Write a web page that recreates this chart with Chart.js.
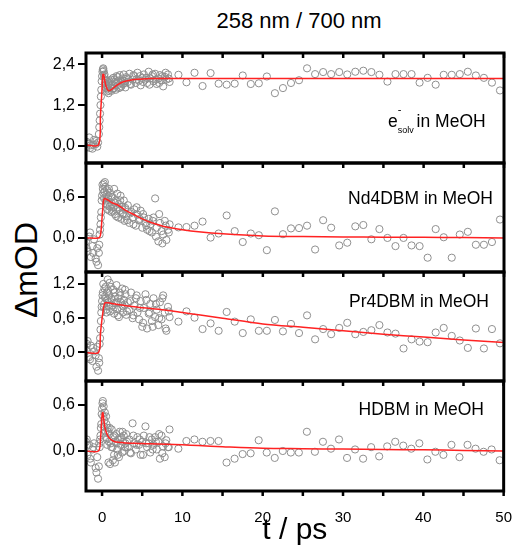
<!DOCTYPE html>
<html>
<head>
<meta charset="utf-8">
<script src="https://cdn.jsdelivr.net/npm/chart.js@4.4.1/dist/chart.umd.min.js"></script>
<style>
  html, body { margin: 0; padding: 0; background: #fff; }
  body { width: 512px; height: 551px; position: relative; overflow: hidden; font-family: "Liberation Sans", Arial, sans-serif; color: #000; }
  canvas { position: absolute; left: 0; }
  .lab { position: absolute; font-size: 17.5px; line-height: 20px; white-space: nowrap; }
  .sup { display: inline-block; width: 0; position: relative; top: -14px; font-size: 11px; }
  .sub { position: relative; top: 6px; font-size: 9px; margin-right: -2px; }
  #title { position: absolute; left: 90px; width: 418px; top: 8px; text-align: center; font-size: 22px; }
  #ylab { position: absolute; left: 26px; top: 270px; transform: translate(-50%, -50%) rotate(-90deg); font-size: 32px; white-space: nowrap; }
</style>
</head>
<body>
<div id="title">258 nm / 700 nm</div>
<div id="ylab">ΔmOD</div>

<canvas id="p1" width="512" height="142" style="top:37px"></canvas>
<canvas id="p2" width="512" height="141" style="top:147px"></canvas>
<canvas id="p3" width="512" height="141" style="top:256px"></canvas>
<canvas id="p4" width="522" height="186" style="top:365px"></canvas>

<div class="lab" style="left:388px; top:111px">e<span class="sup">-</span><span class="sub">solv</span> in MeOH</div>
<div class="lab" style="right:19px; top:188px">Nd4DBM in MeOH</div>
<div class="lab" style="right:23px; top:291px">Pr4DBM in MeOH</div>
<div class="lab" style="right:28px; top:399px">HDBM in MeOH</div>

<script>
// time axes (ps)
const tDense = [-2.0, -1.8, -1.6, -1.4, -1.2, -1.0, -0.8, -0.6,
  -0.5, -0.4, -0.3, -0.2, -0.1, 0.0, 0.1, 0.2, 0.3, 0.4, 0.5, 0.6, 0.7, 0.8, 0.9, 1.0,
  1.1, 1.2, 1.3, 1.4, 1.5, 1.6, 1.7, 1.8, 1.9, 2.0, 2.1, 2.2, 2.3, 2.4, 2.5, 2.6, 2.7, 2.8, 2.9, 3.0,
  3.2, 3.4, 3.6, 3.8, 4.0, 4.2, 4.4, 4.6, 4.8, 5.0, 5.2, 5.4, 5.6, 5.8, 6.0, 6.2, 6.4, 6.6, 6.8,
  7.0, 7.2, 7.4, 7.6, 7.8, 8.0, 8.2, 8.4];
const tDense2 = [-1.9, -1.5, -1.1, -0.7, -0.35, -0.25, -0.15, -0.05, 0.05, 0.15, 0.25, 0.35, 0.45,
  0.55, 0.65, 0.75, 0.85, 0.95, 1.15, 1.35, 1.55, 1.75, 1.95, 2.25, 2.55, 2.85, 3.1, 3.5, 3.9,
  4.3, 4.7, 5.1, 5.5, 5.9, 6.3, 6.7, 7.1, 7.5, 7.9, 8.3];
const tSparse = [9.5, 10.5, 11.5, 12.5, 13.5, 14.5, 15.5, 16.5, 17.5, 18.5, 19.5, 20.5, 21.5, 22.5,
  23.5, 24.5, 25.5, 26.5, 27.5, 28.5, 29.5, 30.5, 31.5, 32.5, 33.5, 34.5, 35.5, 36.5, 37.5, 38.5,
  39.5, 40.5, 41.5, 42.5, 43.5, 44.5, 45.5, 46.5, 47.5, 48.5, 49.5];
const fitT = [-2, -0.45, -0.2, 0, 0.1, 0.2, 0.35, 0.5, 0.8, 1.2, 1.6, 2, 2.5, 3, 4, 5, 6, 8, 10,
  12, 15, 20, 25, 30, 35, 40, 45, 50];
const xTicks = [0, 5, 10, 15, 20, 25, 30, 35, 40, 45, 50];

// e- solv in MeOH
const esolvDense = [-0.05, 0.08, 0.25, 0.02, -0.08, 0.18, 0.05, -0.02,
  0.10, 0.35, 0.75, 1.20, 1.65, 2.05, 2.25, 2.20, 2.10, 1.95, 1.80, 1.60, 1.75, 1.55, 1.85, 1.70,
  1.95, 1.62, 1.80, 2.00, 1.70, 1.88, 1.65, 2.05, 1.78, 1.92, 1.70, 2.08, 1.85, 1.75, 1.98, 1.82, 2.10, 1.90, 1.72, 2.02,
  1.88, 2.12, 1.80, 1.95, 2.05, 1.85, 2.15, 1.92, 1.78, 2.00, 2.10, 1.95, 1.85, 2.18, 1.98, 2.05, 1.90, 2.12, 1.82,
  1.98, 2.08, 1.92, 1.75, 2.03, 1.95, 2.10, 1.88];
const esolvDense2 = [0.12, -0.06, 0.04, 0.15, 0.55, 0.95, 1.45, 1.90, 2.18, 2.28, 2.05, 1.85, 1.70,
  1.92, 1.68, 1.82, 1.62, 1.90, 1.78, 1.68, 1.95, 1.85, 2.02, 1.72, 1.92, 1.85, 1.98, 1.82, 2.08,
  1.95, 2.05, 1.88, 2.00, 1.80, 2.10, 1.95, 1.85, 2.05, 2.15, 1.98];
const esolvSparse = [2.09, 1.87, 2.15, 1.76, 2.14, 1.83, 1.80, 1.83, 2.07, 1.82, 1.84, 2.04, 1.55, 1.70,
  1.85, 1.93, 2.28, 2.11, 2.17, 2.11, 2.17, 2.10, 2.18, 2.21, 2.17, 2.09, 1.89, 2.11, 2.11, 2.11,
  1.86, 2.00, 1.80, 2.09, 2.09, 2.11, 2.18, 2.07, 2.00, 1.86, 1.63];
const esolvFit = [0.03, 0.03, 0.9, 1.7, 2.1, 2.1, 1.9, 1.75, 1.62, 1.66, 1.74, 1.81, 1.87, 1.91,
  1.95, 1.97, 1.98, 1.98, 1.98, 1.98, 1.98, 1.98, 1.98, 1.98, 1.98, 1.98, 1.98, 1.98];
const esolvTicks = [0, 1.2, 2.4];

// Nd4DBM in MeOH
const ndDense = [-0.05, -0.20, 0.02, -0.28, -0.12, -0.02, -0.30, -0.15,
  -0.40, -0.22, 0.05, 0.20, 0.38, 0.62, 0.72, 0.80, 0.68, 0.75, 0.55, 0.70, 0.48, 0.62, 0.40, 0.66,
  0.52, 0.38, 0.60, 0.45, 0.72, 0.35, 0.55, 0.42, 0.65, 0.30, 0.50, 0.40, 0.62, 0.28, 0.46, 0.36, 0.55, 0.25, 0.44, 0.32,
  0.48, 0.22, 0.38, 0.30, 0.42, 0.18, 0.34, 0.26, 0.40, 0.15, 0.30, 0.22, 0.12, 0.28, 0.20, 0.08, 0.30, 0.58, 0.15,
  -0.05, 0.22, 0.10, 0.05, 0.25, -0.03, 0.12, 0.20];
const ndDense2 = [-0.15, 0.08, -0.22, -0.35, -0.10, 0.12, 0.30, 0.55, 0.78, 0.66, 0.58, 0.82, 0.50,
  0.64, 0.42, 0.58, 0.72, 0.46, 0.60, 0.40, 0.52, 0.32, 0.45, 0.55, 0.35, 0.42, 0.26, 0.36, 0.20,
  0.45, 0.28, 0.35, 0.18, 0.10, 0.25, 0.02, 0.35, -0.08, 0.18, 0.08];
const ndSparse = [0.155, 0.16, 0.18, 0.24, 0.005, 0.065, 0.33, 0.10, -0.06, 0.065, 0.04, -0.18, 0.39, 0.055,
  0.14, 0.145, 0.18, -0.17, 0.26, 0.15, -0.11, -0.07, 0.17, 0.19, -0.02, 0.13, 0.0, -0.12, 0.0, -0.11,
  -0.12, -0.29, 0.13, 0.01, -0.29, 0.05, 0.09, -0.10, -0.10, -0.06, 0.27];
const ndFit = [0, 0, 0.04, 0.3, 0.45, 0.56, 0.58, 0.57, 0.55, 0.52, 0.50, 0.48, 0.44, 0.40, 0.34,
  0.28, 0.23, 0.16, 0.12, 0.09, 0.06, 0.03, 0.02, 0.015, 0.01, 0.01, 0.005, 0];
const ndTicks = [0, 0.6];

// Pr4DBM in MeOH
const prDense = [0.05, 0.20, -0.08, 0.12, -0.15, 0.02, -0.05, 0.10,
  -0.32, -0.10, 0.15, 0.40, 0.70, 0.90, 1.05, 0.80, 1.12, 0.95, 0.75, 1.05, 1.28, 0.88, 1.00, 0.72,
  1.15, 0.92, 0.82, 1.10, 0.68, 0.98, 0.86, 1.18, 0.76, 0.95, 0.62, 1.05, 0.88, 0.78, 1.12, 0.70, 0.92, 0.84, 1.02, 0.66,
  0.88, 0.74, 1.05, 0.60, 0.82, 0.95, 0.70, 0.58, 0.90, 0.45, 0.78, 1.02, 0.42, 0.68, 0.85, 0.55, 0.95, 0.62, 0.75,
  0.48, 0.88, 0.58, 1.00, 0.70, 0.38, 0.80, 0.62];
const prDense2 = [0.15, -0.12, 0.08, -0.25, -0.18, 0.25, 0.55, 0.80, 1.00, 1.20, 0.85, 0.98, 1.15,
  0.70, 0.92, 1.08, 0.80, 1.22, 0.95, 0.75, 1.05, 0.88, 0.65, 1.00, 0.82, 1.10, 0.72, 0.90, 0.65,
  1.00, 0.78, 0.52, 0.92, 0.70, 0.45, 0.85, 0.60, 0.95, 0.42, 0.72];
const prSparse = [0.54, 0.72, 0.61, 0.41, 0.51, 0.38, 0.71, 0.54, 0.34, 0.58, 0.38, 0.38, 0.57, 0.37,
  0.50, 0.34, 0.65, 0.23, 0.41, 0.32, 0.43, 0.52, 0.32, 0.36, 0.39, 0.48, 0.35, 0.33, 0.07, 0.23,
  0.19, 0.18, 0.35, 0.43, 0.29, 0.21, 0.08, 0.42, 0.07, 0.41, 0.16];
const prFit = [0, 0, 0.34, 0.6, 0.7, 0.8, 0.87, 0.87, 0.87, 0.86, 0.85, 0.84, 0.83, 0.82, 0.80,
  0.785, 0.77, 0.74, 0.70, 0.66, 0.60, 0.50, 0.44, 0.38, 0.32, 0.27, 0.22, 0.175];
const prTicks = [0, 0.6, 1.2];

// HDBM in MeOH
const hdbmDense = [0.12, -0.05, 0.08, -0.15, 0.02, 0.10, -0.22, -0.08,
  -0.36, -0.20, 0.05, 0.20, 0.35, 0.55, 0.65, 0.58, 0.40, 0.25, 0.45, 0.15, 0.30, -0.15, 0.22, -0.17,
  0.10, 0.28, 0.05, 0.18, -0.05, -0.15, 0.12, 0.22, 0.02, 0.15, -0.08, 0.25, 0.08, 0.18, -0.02, 0.12, 0.20, 0.0, 0.10, 0.22,
  0.05, 0.15, -0.03, 0.36, 0.10, 0.02, 0.18, 0.08, -0.05, 0.12, 0.20, 0.32, 0.05, 0.10, -0.02, 0.15, 0.08, 0.18, 0.02,
  0.12, -0.10, 0.20, 0.06, -0.08, 0.14, 0.05, 0.28];
const hdbmDense2 = [0.15, -0.10, 0.05, -0.28, 0.10, 0.15, 0.30, 0.48, 0.62, 0.45, 0.32, 0.50, 0.18,
  0.35, 0.08, 0.25, 0.12, 0.30, 0.05, -0.12, 0.20, 0.10, -0.05, 0.15, 0.25, 0.05, 0.12, -0.02, 0.20,
  0.08, 0.15, -0.05, 0.10, 0.18, 0.02, 0.12, 0.22, -0.03, 0.10, 0.05];
const hdbmSparse = [0.03, 0.13, 0.15, 0.12, 0.13, 0.13, -0.15, -0.10, -0.04, -0.03, 0.14, -0.02, -0.09, 0.0,
  -0.02, -0.02, 0.25, -0.01, 0.12, 0.03, 0.15, -0.09, 0.02, -0.10, 0.05, -0.07, 0.06, 0.12, 0.07, 0.03,
  0.10, -0.11, -0.01, -0.05, 0.08, -0.08, 0.08, 0.03, -0.01, 0.02, -0.12];
const hdbmFit = [0, 0, 0.15, 0.47, 0.5, 0.42, 0.31, 0.25, 0.18, 0.14, 0.12, 0.115, 0.11, 0.105, 0.10,
  0.097, 0.094, 0.088, 0.08, 0.07, 0.055, 0.035, 0.03, 0.025, 0.02, 0.015, 0.008, 0];
const hdbmTicks = [0, 0.6];

Chart.defaults.font.family = '"Liberation Sans", Arial, sans-serif';
Chart.defaults.color = "#000";

const framePlugin = {
  id: "frame",
  afterDraw(chart, args, opts) {
    const { ctx, chartArea: a, scales } = chart;
    ctx.save();
    ctx.strokeStyle = "#000";
    ctx.lineWidth = 2.5;
    xTicks.forEach((v) => {
      const px = scales.x.getPixelForValue(v);
      ctx.beginPath();
      ctx.moveTo(px, a.top);
      ctx.lineTo(px, a.top + 5);
      if (opts.bottomTicks) {
        ctx.moveTo(px, a.bottom);
        ctx.lineTo(px, a.bottom + 5);
      }
      ctx.stroke();
    });
    ctx.lineWidth = 3;
    ctx.strokeRect(a.left, a.top, a.right - a.left, a.bottom - a.top);
    ctx.restore();
  },
};

function toPoints(ts, ys) {
  return ts.map((t, i) => ({ x: t, y: ys[i] }));
}

function makePanel(id, dense, dense2, sparse, fit, yMin, yMax, yTicks, showX) {
  const pts = toPoints(tDense, dense).concat(toPoints(tDense2, dense2), toPoints(tSparse, sparse));
  const xScale = {
    type: "linear",
    min: -2,
    max: 50,
    display: showX,
    afterBuildTicks: (s) => { s.ticks = xTicks.map((v) => ({ value: v })); },
    grid: { display: false },
    border: { display: false },
    ticks: {
      autoSkip: false,
      maxRotation: 0,
      padding: 10,
      color: "#000",
      font: { size: 15 },
      callback: (v) => (v % 10 === 0 ? String(v) : ""),
    },
    title: {
      display: showX,
      text: "t / ps",
      color: "#000",
      font: { size: 30 },
      padding: { top: 0, bottom: 2 },
    },
  };
  if (showX) xScale.afterFit = (s) => { s.height = 60; };

  return new Chart(document.getElementById(id), {
    type: "scatter",
    data: {
      datasets: [
        {
          data: toPoints(fitT, fit),
          showLine: true,
          borderColor: "#ff2222",
          borderWidth: 1.5,
          pointRadius: 0,
          tension: 0.3,
          order: 0,
        },
        {
          data: pts,
          borderColor: "#8f8f8f",
          backgroundColor: "rgba(0,0,0,0)",
          borderWidth: 1,
          pointRadius: 3.6,
          order: 1,
        },
      ],
    },
    options: {
      responsive: false,
      animation: false,
      events: [],
      layout: { autoPadding: false, padding: { left: 0, right: 8, top: 16, bottom: showX ? 0 : 16 } },
      plugins: { legend: { display: false }, tooltip: { enabled: false }, frame: { bottomTicks: showX } },
      scales: {
        x: xScale,
        y: {
          min: yMin,
          max: yMax,
          afterBuildTicks: (s) => { s.ticks = yTicks.map((v) => ({ value: v })); },
          afterFit: (s) => { s.width = 86; },
          grid: { display: true, drawOnChartArea: false, drawTicks: true, tickLength: 8, color: "#000", lineWidth: 2 },
          border: { display: false },
          ticks: {
            padding: 3,
            color: "#000",
            font: { size: 16 },
            callback: (v) => v.toFixed(1).replace(".", ","),
          },
        },
      },
    },
    plugins: [framePlugin],
  });
}

makePanel("p1", esolvDense, esolvDense2, esolvSparse, esolvFit, -0.5, 2.73, esolvTicks, false);
makePanel("p2", ndDense, ndDense2, ndSparse, ndFit, -0.5, 1.1, ndTicks, false);
makePanel("p3", prDense, prDense2, prSparse, prFit, -0.5, 1.41, prTicks, false);
makePanel("p4", hdbmDense, hdbmDense2, hdbmSparse, hdbmFit, -0.52, 0.91, hdbmTicks, true);
</script>
</body>
</html>
